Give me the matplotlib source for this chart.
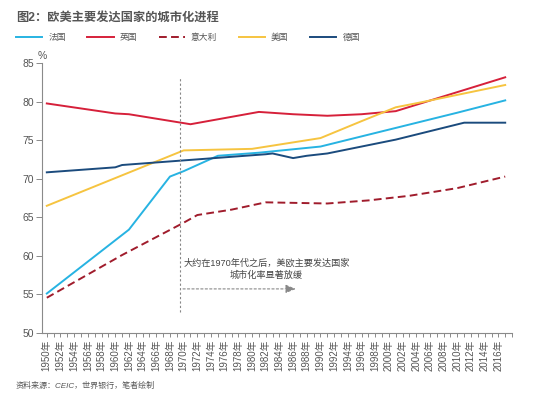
import matplotlib
matplotlib.use("Agg")
import matplotlib.pyplot as plt
from matplotlib.ticker import MultipleLocator

plt.rcParams['font.family'] = ['Liberation Sans', 'Noto Sans CJK SC', 'DejaVu Sans']

# Data (urbanisation rate, %)
fr_years = [1950, 1962, 1968, 1970, 1975, 1981, 1990, 2000, 2010, 2017]
fr_vals = [55.1, 63.4, 70.3, 71.0, 73.0, 73.4, 74.2, 76.4, 78.6, 80.2]

uk_years = [1950, 1960, 1962, 1971, 1981, 1986, 1991, 1996, 2001, 2017]
uk_vals = [79.8, 78.5, 78.4, 77.1, 78.7, 78.4, 78.2, 78.4, 78.8, 83.2]

it_years = [1950, 1961, 1970, 1972, 1977, 1982, 1991, 1997, 2003, 2010, 2017]
it_vals = [54.55, 60.1, 64.3, 65.3, 66.0, 66.95, 66.8, 67.2, 67.8, 68.8, 70.3]

us_years = [1950, 1970, 1980, 1990, 1996, 2001, 2005, 2017]
us_vals = [66.5, 73.7, 73.9, 75.3, 77.5, 79.3, 80.0, 82.2]

de_years = [1950, 1960, 1961, 1970, 1982, 1983, 1986, 1988, 1991, 1996, 2001, 2011, 2017]
de_vals = [70.85, 71.5, 71.8, 72.4, 73.2, 73.3, 72.7, 73.0, 73.3, 74.2, 75.1, 77.3, 77.3]

series_names = ["法国", "英国", "意大利", "美国", "德国"]
tick_years = list(range(1950, 2018, 2))
tick_labels = [f"{y}年" for y in tick_years]

TITLE = "图2：欧美主要发达国家的城市化进程"
NOTE = "大约在1970年代之后，美欧主要发达国家\n城市化率显著放缓"
SOURCE = "资料来源：CEIC，世界银行，笔者绘制"

GREY = "#555555"
SPINE = "#8a8a8a"

# Figure
fig = plt.figure(figsize=(5.5, 3.99), dpi=100)
ax = fig.add_axes([0.0764, 0.166, 0.8546, 0.675])

lw = 1.4
ax.plot(fr_years, fr_vals, color="#27b3e2", lw=lw, label=series_names[0])
ax.plot(uk_years, uk_vals, color="#d6203a", lw=lw, label=series_names[1])
ax.plot(it_years, it_vals, color="#a01c2c", lw=lw, ls=(0, (4, 2.2)), label=series_names[2])
ax.plot(us_years, us_vals, color="#f6c440", lw=lw, label=series_names[3])
ax.plot(de_years, de_vals, color="#1b4b7d", lw=lw, label=series_names[4])

# Axes
ax.set_xlim(1949.3, 2018)
ax.set_ylim(50, 85)
ax.yaxis.set_major_locator(MultipleLocator(5))
ax.set_xticks(tick_years)
ax.set_xticklabels(tick_labels, rotation=90)
ax.xaxis.set_minor_locator(MultipleLocator(1))
ax.tick_params(axis="x", which="both", length=3, width=0.7, color=SPINE,
               direction="out", pad=2, labelsize=7, labelcolor=GREY)
ax.tick_params(axis="y", length=4, width=0.7, color=SPINE, direction="out",
               pad=2, labelsize=7.5, labelcolor=GREY)
for s in ["top", "right"]:
    ax.spines[s].set_visible(False)
for s in ["left", "bottom"]:
    ax.spines[s].set_color(SPINE)
    ax.spines[s].set_linewidth(0.8)

ax.annotate("%", xy=(0, 1), xycoords="axes fraction", xytext=(0, 2),
            textcoords="offset points", ha="center", va="bottom",
            fontsize=7.5, color=GREY)

# 1970 marker and note
ax.plot([1969.5, 1969.5], [52.7, 83.2], color="#888888", lw=0.8, ls=(0, (2, 2)))
ax.annotate("", xy=(1986.8, 55.7), xytext=(1969.5, 55.7),
            arrowprops=dict(arrowstyle="-|>,head_length=0.6,head_width=0.25",
                            color="#888888", lw=0.8, ls=(0, (2, 2))))
ax.text(1982.1, 58.3, NOTE, ha="center", va="center", fontsize=6.6,
        color="#444444", linespacing=1.35)

# Title, legend, source
fig.text(0.029, 0.955, TITLE, fontsize=8.8, fontweight="bold", color=GREY,
         ha="left", va="center")
fig.legend(loc="center left", bbox_to_anchor=(0.029, 0.9065), ncol=5,
           frameon=False, fontsize=6.3, handlelength=3.0, handletextpad=0.7,
           columnspacing=2.45, borderpad=0, borderaxespad=0,
           labelcolor=GREY)
fig.text(0.029, 0.032, SOURCE, fontsize=5.8, color=GREY, style="italic",
         ha="left", va="center")

fig.savefig("out.png", dpi=100)
